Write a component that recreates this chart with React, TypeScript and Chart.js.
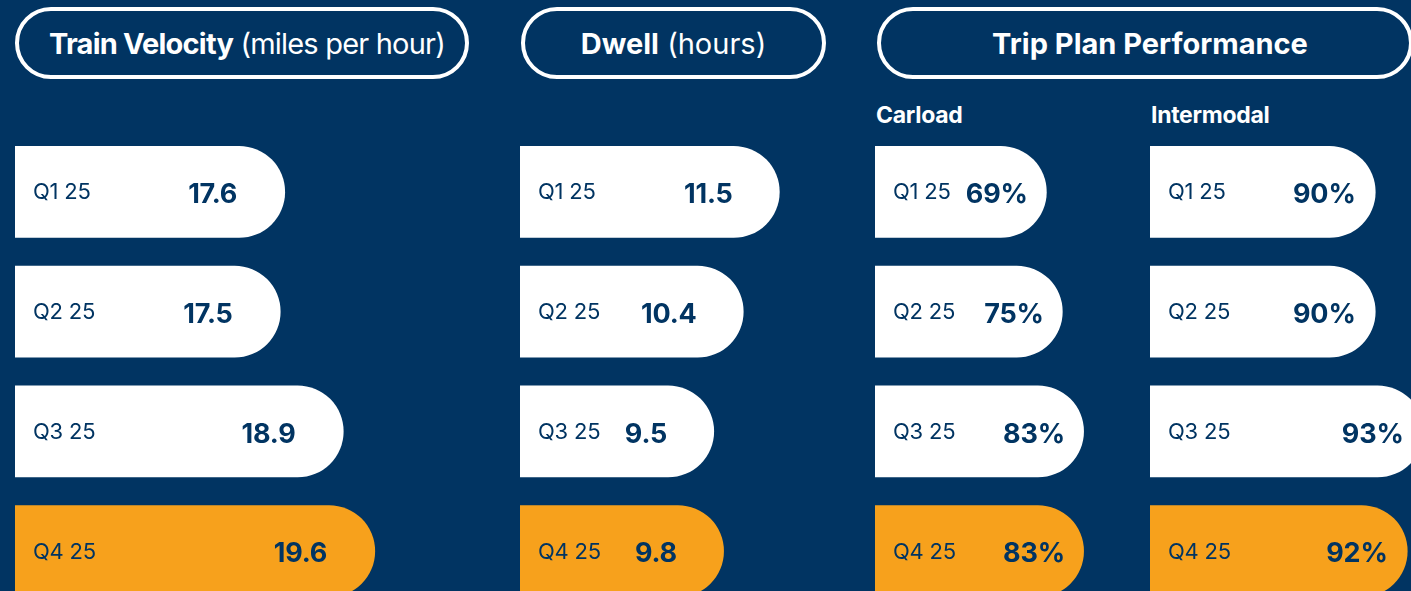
import React, { useEffect, useRef } from "react";
import { Chart, registerables } from "chart.js";

Chart.register(...registerables);

const quarters = ["Q1 25", "Q2 25", "Q3 25", "Q4 25"];
const velocityValues = [17.6, 17.5, 18.9, 19.6];
const dwellValues = [11.5, 10.4, 9.5, 9.8];
const carloadValues = [69, 75, 83, 83];
const intermodalValues = [90, 90, 93, 92];

const NAVY = "#013462";
const ORANGE = "#F7A11C";
const WHITE = "#FFFFFF";
const FONT = "Inter, 'Noto Sans', sans-serif";

const barColors = [WHITE, WHITE, WHITE, ORANGE];

type PanelProps = {
  values: number[];
  left: number;
  width: number;
  min: number;
  max: number;
  format: (v: number) => string;
  valueGap: number;
};

const labelPlugin = {
  id: "barLabels",
  afterDatasetsDraw(chart: any, _args: any, opts: any) {
    const ctx = chart.ctx;
    const meta = chart.getDatasetMeta(0);
    const data = chart.data.datasets[0].data as number[];
    const startX = chart.chartArea.left;
    ctx.save();
    meta.data.forEach((bar: any, i: number) => {
      const { x, y } = bar.getProps(["x", "y"], true);
      ctx.fillStyle = NAVY;
      ctx.textBaseline = "middle";
      ctx.font = `400 22px ${FONT}`;
      (ctx as any).letterSpacing = "-0.2px";
      ctx.textAlign = "left";
      ctx.fillText(chart.data.labels[i], startX + 18, y + 1);
      ctx.font = `700 27px ${FONT}`;
      (ctx as any).letterSpacing = "-0.2px";
      ctx.textAlign = "right";
      ctx.fillText(opts.format(data[i]), x - opts.valueGap, y + 3);
    });
    ctx.restore();
  },
};

function BarPanel({ values, left, width, min, max, format, valueGap }: PanelProps) {
  const ref = useRef<HTMLCanvasElement | null>(null);
  useEffect(() => {
    if (!ref.current) return;
    const chart = new Chart(ref.current, {
      type: "bar",
      data: {
        labels: quarters,
        datasets: [
          {
            data: values,
            backgroundColor: barColors,
            borderWidth: 0,
            borderRadius: 100,
            borderSkipped: "start",
            barPercentage: 0.768,
            categoryPercentage: 1,
          },
        ],
      },
      options: {
        indexAxis: "y",
        animation: false,
        responsive: false,
        devicePixelRatio: 1,
        layout: { padding: 0 },
        plugins: {
          legend: { display: false },
          tooltip: { enabled: false },
          barLabels: { format, valueGap },
        } as any,
        scales: {
          x: { display: false, min, max },
          y: { display: false },
        },
      },
      plugins: [labelPlugin],
    });
    return () => chart.destroy();
  }, []);
  return (
    <canvas
      ref={ref}
      width={width}
      height={479}
      style={{ position: "absolute", left, top: 132, width, height: 479 }}
    />
  );
}

const pillStyle: React.CSSProperties = {
  position: "absolute",
  top: 7,
  height: 72,
  boxSizing: "border-box",
  border: "4px solid #FFFFFF",
  borderRadius: 40,
  display: "flex",
  alignItems: "center",
  justifyContent: "center",
  color: WHITE,
  fontFamily: FONT,
  fontSize: 29,
  letterSpacing: "0px",
  whiteSpace: "nowrap",
};

const subStyle: React.CSSProperties = {
  position: "absolute",
  top: 101,
  color: WHITE,
  fontFamily: FONT,
  fontWeight: 700,
  fontSize: 23,
  letterSpacing: "-0.3px",
};

export default function App() {
  useEffect(() => {
    document.body.style.margin = "0";
  }, []);
  return (
    <div
      style={{
        position: "relative",
        width: 1411,
        height: 591,
        overflow: "hidden",
        background: NAVY,
      }}
    >
      <div style={{ ...pillStyle, left: 15, width: 454, paddingLeft: 10, letterSpacing: "-0.8px" }}>
        <span style={{ fontWeight: 700 }}>Train Velocity</span>
        <span style={{ fontWeight: 400 }}>&nbsp;(miles per hour)</span>
      </div>
      <div style={{ ...pillStyle, left: 521, width: 305 }}>
        <span style={{ fontWeight: 700 }}>Dwell</span>
        <span style={{ fontWeight: 400 }}>&nbsp;(hours)</span>
      </div>
      <div style={{ ...pillStyle, left: 877, width: 536, paddingLeft: 10 }}>
        <span style={{ fontWeight: 700 }}>Trip Plan Performance</span>
      </div>
      <div style={{ ...subStyle, left: 876 }}>Carload</div>
      <div style={{ ...subStyle, left: 1151 }}>Intermodal</div>

      <BarPanel
        values={velocityValues}
        left={15}
        width={420}
        min={11.6}
        max={20.93}
        format={(v) => v.toFixed(1)}
        valueGap={48}
      />
      <BarPanel
        values={dwellValues}
        left={520}
        width={320}
        min={3.58}
        max={13.34}
        format={(v) => v.toFixed(1)}
        valueGap={47}
      />
      <BarPanel
        values={carloadValues}
        left={875}
        width={260}
        min={4.42}
        max={102.2}
        format={(v) => `${v}%`}
        valueGap={19}
      />
      <BarPanel
        values={intermodalValues}
        left={1150}
        width={300}
        min={75.9}
        max={94.65}
        format={(v) => `${v}%`}
        valueGap={20}
      />
    </div>
  );
}
